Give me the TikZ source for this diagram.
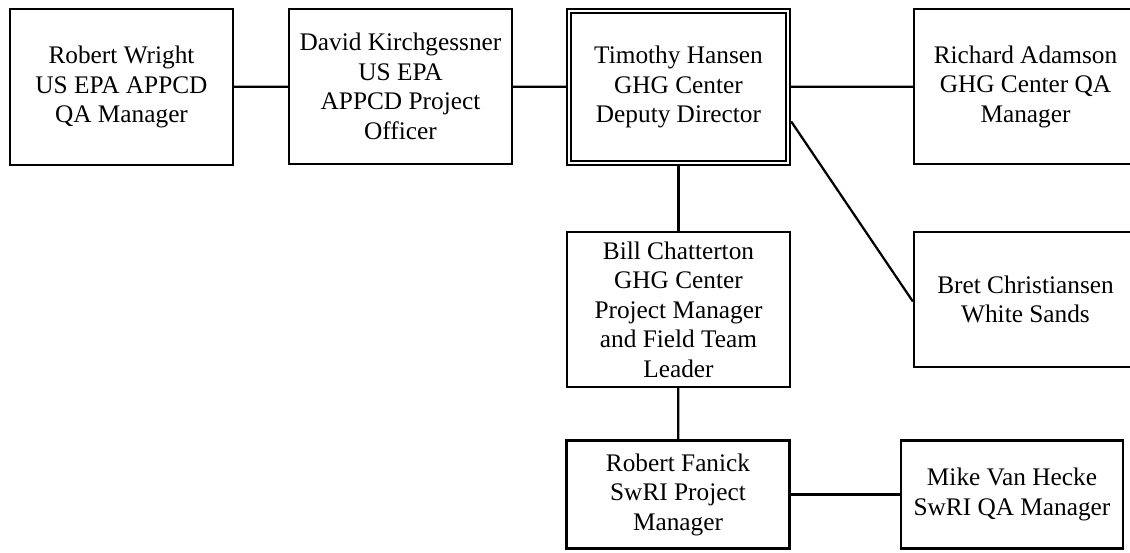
\documentclass[tikz,border=0pt]{standalone}
\usepackage{fontspec}
\setmainfont{Liberation Serif}
\newcommand{\namefont}{\fontsize{18}{21}\selectfont}

\begin{document}
\begin{tikzpicture}[x=0.025cm,y=-0.025cm,
  person/.style={draw, line width=1.6pt, align=center, inner sep=0pt,
    minimum width=5.575cm, minimum height=3.9cm, font=\namefont},
  link/.style={line width=1.6pt}]
\useasboundingbox (0,0) rectangle (1130,552);
% top row
\node[person] (wright) at (121.5,87) {Robert Wright\\US EPA APPCD\\QA Manager};
\node[person, minimum height=3.875cm] (kirch) at (400.5,86.5) {David Kirchgessner\\US EPA\\APPCD Project\\Officer};
\node[person] (hansen) at (678.5,87) {Timothy Hansen\\GHG Center\\Deputy Director};
\draw[line width=1.6pt] ([shift={(5,5)}]hansen.north west) rectangle ([shift={(-5,-5)}]hansen.south east);
\node[person, minimum height=3.875cm] (adamson) at (1025.5,86.5) {Richard Adamson\\GHG Center QA\\Manager};
% middle
\node[person, minimum height=3.875cm] (chatt) at (678.5,309.5) {Bill Chatterton\\GHG Center\\Project Manager\\and Field Team\\Leader};
\node[person, minimum height=3.375cm] (bret) at (1025.5,299.5) {Bret Christiansen\\White Sands};
% bottom row
\node[person, minimum height=2.7cm] (fanick) at (678,494.5) {Robert Fanick\\SwRI Project\\Manager};
\node[person, minimum width=5.55cm, minimum height=2.7cm] (hecke) at (1012,494.5) {Mike Van Hecke\\SwRI QA Manager};
% links
\draw[link] (wright) -- (kirch);
\draw[link] (kirch) -- (hansen);
\draw[link] (hansen) -- (adamson);
\draw[link] (hansen) -- (chatt);
\draw[link] (hansen.-17.4) -- (bret.181.8);
\draw[link] (chatt) -- (fanick);
\draw[link] (fanick) -- (hecke);
\end{tikzpicture}
\end{document}
